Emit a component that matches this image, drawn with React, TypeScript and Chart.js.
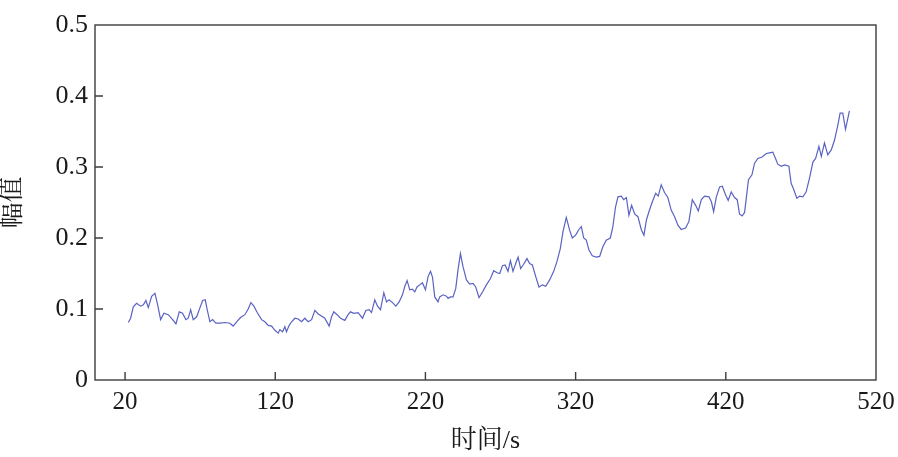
import React, { useEffect, useRef } from "react";
import { Chart, registerables } from "chart.js";

Chart.register(...registerables);

const times = [
  22.2, 23.7, 25.5, 27.7, 30.4, 32.2, 33.9, 35.5, 37.7, 39.9, 41.5, 43.7, 45.9, 48.8, 51.7, 53.9, 56.1, 58.3, 60.5, 62.1,
  63.7, 65.4, 67.7, 69.9, 71.7, 73.4, 74.7, 76.5, 78.3, 80.5, 83.2, 86.5, 89.8, 92.0, 94.3, 96.9, 99.8, 102.0, 103.8, 105.8,
  108.0, 110.9, 113.1, 115.3, 117.6, 119.8, 122.0, 123.1, 124.9, 126.4, 127.5, 129.3, 130.9, 133.1, 135.3, 137.5, 139.7, 141.9, 144.2, 146.4,
  148.6, 150.8, 153.0, 155.9, 157.5, 159.0, 161.2, 163.5, 166.3, 168.5, 170.1, 172.3, 175.2, 178.1, 180.3, 182.5, 184.1, 186.3, 188.1, 190.1,
  192.3, 194.1, 195.8, 198.1, 200.3, 202.5, 204.7, 206.3, 207.8, 209.6, 211.4, 212.9, 214.4, 216.2, 218.0, 220.0, 221.8, 223.4, 224.7, 226.2,
  228.4, 229.5, 231.7, 234.0, 235.1, 236.7, 238.4, 240.2, 241.7, 243.3, 245.0, 247.3, 249.5, 251.7, 253.5, 255.7, 258.0, 260.6, 263.3, 265.5,
  267.7, 269.5, 271.3, 273.0, 275.0, 276.6, 278.3, 280.1, 281.7, 283.4, 285.4, 287.6, 289.4, 291.2, 293.4, 295.6, 297.9, 300.1, 302.7, 305.4,
  307.6, 309.8, 311.6, 313.8, 316.0, 317.8, 320.0, 322.2, 323.8, 325.4, 327.1, 328.9, 331.1, 333.8, 336.0, 338.2, 340.4, 343.1, 344.8, 346.6,
  348.2, 350.4, 352.0, 353.8, 355.5, 357.3, 359.3, 361.5, 363.7, 365.5, 367.1, 368.8, 371.1, 373.3, 375.0, 377.0, 379.2, 381.4, 383.7, 385.9,
  388.1, 390.3, 393.2, 395.4, 397.7, 399.9, 401.7, 403.7, 405.9, 408.8, 410.4, 411.9, 413.7, 415.9, 417.7, 419.8, 421.6, 423.6, 425.8, 427.6,
  429.1, 430.9, 432.5, 435.1, 437.4, 439.1, 441.3, 444.2, 446.9, 449.1, 451.3, 453.1, 454.6, 456.9, 459.1, 462.0, 463.5, 465.1, 467.3, 469.1,
  471.3, 473.5, 475.8, 478.0, 479.8, 482.0, 483.6, 485.7, 487.9, 490.2, 492.4, 494.6, 496.1, 497.9, 499.7, 502.3,
];

const amplitudes = [
  0.081, 0.087, 0.103, 0.108, 0.104, 0.106, 0.112, 0.102, 0.118, 0.122, 0.108, 0.085, 0.094, 0.092, 0.085, 0.079, 0.096, 0.094, 0.085, 0.087,
  0.099, 0.085, 0.089, 0.102, 0.112, 0.113, 0.099, 0.082, 0.085, 0.08, 0.08, 0.081, 0.08, 0.076, 0.082, 0.088, 0.092, 0.1, 0.109, 0.104,
  0.095, 0.085, 0.082, 0.077, 0.076, 0.07, 0.066, 0.071, 0.068, 0.075, 0.068, 0.077, 0.082, 0.087, 0.086, 0.082, 0.087, 0.082, 0.085, 0.098,
  0.093, 0.09, 0.087, 0.076, 0.089, 0.096, 0.092, 0.087, 0.084, 0.092, 0.096, 0.094, 0.095, 0.087, 0.098, 0.099, 0.095, 0.113, 0.104, 0.099,
  0.123, 0.11, 0.113, 0.109, 0.104, 0.11, 0.12, 0.132, 0.14, 0.127, 0.128, 0.124, 0.131, 0.134, 0.137, 0.127, 0.146, 0.153, 0.145, 0.117,
  0.11, 0.117, 0.12, 0.118, 0.115, 0.117, 0.117, 0.129, 0.155, 0.178, 0.16, 0.141, 0.135, 0.136, 0.131, 0.116, 0.124, 0.134, 0.143, 0.154,
  0.151, 0.15, 0.161, 0.162, 0.153, 0.168, 0.153, 0.164, 0.173, 0.157, 0.163, 0.171, 0.164, 0.162, 0.146, 0.131, 0.134, 0.132, 0.141, 0.153,
  0.167, 0.185, 0.209, 0.229, 0.211, 0.2, 0.204, 0.212, 0.216, 0.2, 0.197, 0.183, 0.175, 0.173, 0.174, 0.188, 0.197, 0.2, 0.216, 0.244,
  0.258, 0.259, 0.254, 0.257, 0.232, 0.246, 0.234, 0.23, 0.212, 0.204, 0.225, 0.237, 0.251, 0.263, 0.259, 0.275, 0.264, 0.257, 0.239, 0.23,
  0.218, 0.212, 0.214, 0.223, 0.254, 0.246, 0.238, 0.254, 0.259, 0.258, 0.251, 0.237, 0.258, 0.272, 0.273, 0.261, 0.253, 0.265, 0.257, 0.254,
  0.234, 0.231, 0.236, 0.282, 0.289, 0.305, 0.312, 0.314, 0.319, 0.32, 0.321, 0.312, 0.304, 0.301, 0.303, 0.301, 0.277, 0.269, 0.256, 0.259,
  0.258, 0.265, 0.285, 0.307, 0.312, 0.329, 0.315, 0.334, 0.317, 0.324, 0.338, 0.359, 0.376, 0.376, 0.353, 0.379,
];

const xTickValues = [20, 120, 220, 320, 420, 520];
const yTickValues = [0, 0.1, 0.2, 0.3, 0.4, 0.5];
const xTitle = "时间/s";
const yTitle = "幅值";

const SERIF = "'Liberation Serif', 'Times New Roman', 'Noto Serif CJK SC', 'Noto Sans CJK SC', serif";
const AXIS_COLOR = "#3c3c3c";

const framePlugin = {
  id: "frame",
  afterDraw(chart: any) {
    const { ctx, chartArea } = chart;
    const { left, right, top, bottom } = chartArea;
    const xs = chart.scales.x;
    const ys = chart.scales.y;
    ctx.save();
    ctx.strokeStyle = AXIS_COLOR;
    ctx.lineWidth = 1.4;
    ctx.strokeRect(left, top, right - left, bottom - top);
    ctx.beginPath();
    const tl = 8;
    xTickValues.forEach((v) => {
      const px = xs.getPixelForValue(v);
      if (px > left + 1 && px < right - 1) {
        ctx.moveTo(px, bottom);
        ctx.lineTo(px, bottom - tl);
      }
    });
    yTickValues.forEach((v) => {
      const py = ys.getPixelForValue(v);
      if (py > top + 1 && py < bottom - 1) {
        ctx.moveTo(left, py);
        ctx.lineTo(left + tl, py);
      }
    });
    ctx.stroke();
    ctx.restore();
  },
};

export default function App() {
  const ref = useRef<HTMLCanvasElement | null>(null);

  useEffect(() => {
    document.body.style.margin = "0";
    const canvas = ref.current;
    if (!canvas) return;
    const points = times.map((t, i) => ({ x: t, y: amplitudes[i] }));
    const chart = new Chart(canvas, {
      type: "line",
      data: {
        datasets: [
          {
            data: points,
            borderColor: "#5a62c2",
            borderWidth: 1.2,
            pointRadius: 0,
            tension: 0,
            fill: false,
          },
        ],
      },
      options: {
        animation: false,
        responsive: false,
        maintainAspectRatio: false,
        layout: { padding: { left: 0, right: 22, top: 25, bottom: 0 } },
        plugins: { legend: { display: false }, tooltip: { enabled: false } },
        scales: {
          x: {
            type: "linear",
            min: 0,
            max: 520,
            afterBuildTicks: (scale: any) => {
              scale.ticks = xTickValues.map((v) => ({ value: v }));
            },
            afterFit: (scale: any) => {
              scale.height = 77;
              scale.paddingLeft = 0;
              scale.paddingRight = 0;
            },
            grid: { display: false, drawTicks: false },
            border: { display: false },
            ticks: {
              padding: 7,
              maxRotation: 0,
              autoSkip: false,
              color: "#1a1a1a",
              font: { family: SERIF, size: 25 },
              callback: (v: any) => String(v),
            },
            title: {
              display: true,
              text: xTitle,
              color: "#1a1a1a",
              font: { family: SERIF, size: 26, lineHeight: 1.2 },
              padding: { top: 0, bottom: 0 },
            },
          },
          y: {
            type: "linear",
            min: 0,
            max: 0.5,
            afterBuildTicks: (scale: any) => {
              scale.ticks = yTickValues.map((v) => ({ value: v }));
            },
            afterFit: (scale: any) => {
              scale.width = 95;
              scale.paddingTop = 0;
              scale.paddingBottom = 0;
            },
            grid: { display: false, drawTicks: false },
            border: { display: false },
            ticks: {
              padding: 7,
              autoSkip: false,
              color: "#1a1a1a",
              font: { family: SERIF, size: 26 },
              callback: (v: any) => String(Math.round(Number(v) * 10) / 10),
            },
            title: {
              display: true,
              text: yTitle,
              color: "#1a1a1a",
              font: { family: SERIF, size: 26, lineHeight: 1 },
              padding: { top: 0, bottom: 0 },
            },
          },
        },
      },
      plugins: [framePlugin],
    });
    return () => chart.destroy();
  }, []);

  return <canvas ref={ref} width={898} height={457} style={{ display: "block" }} />;
}
